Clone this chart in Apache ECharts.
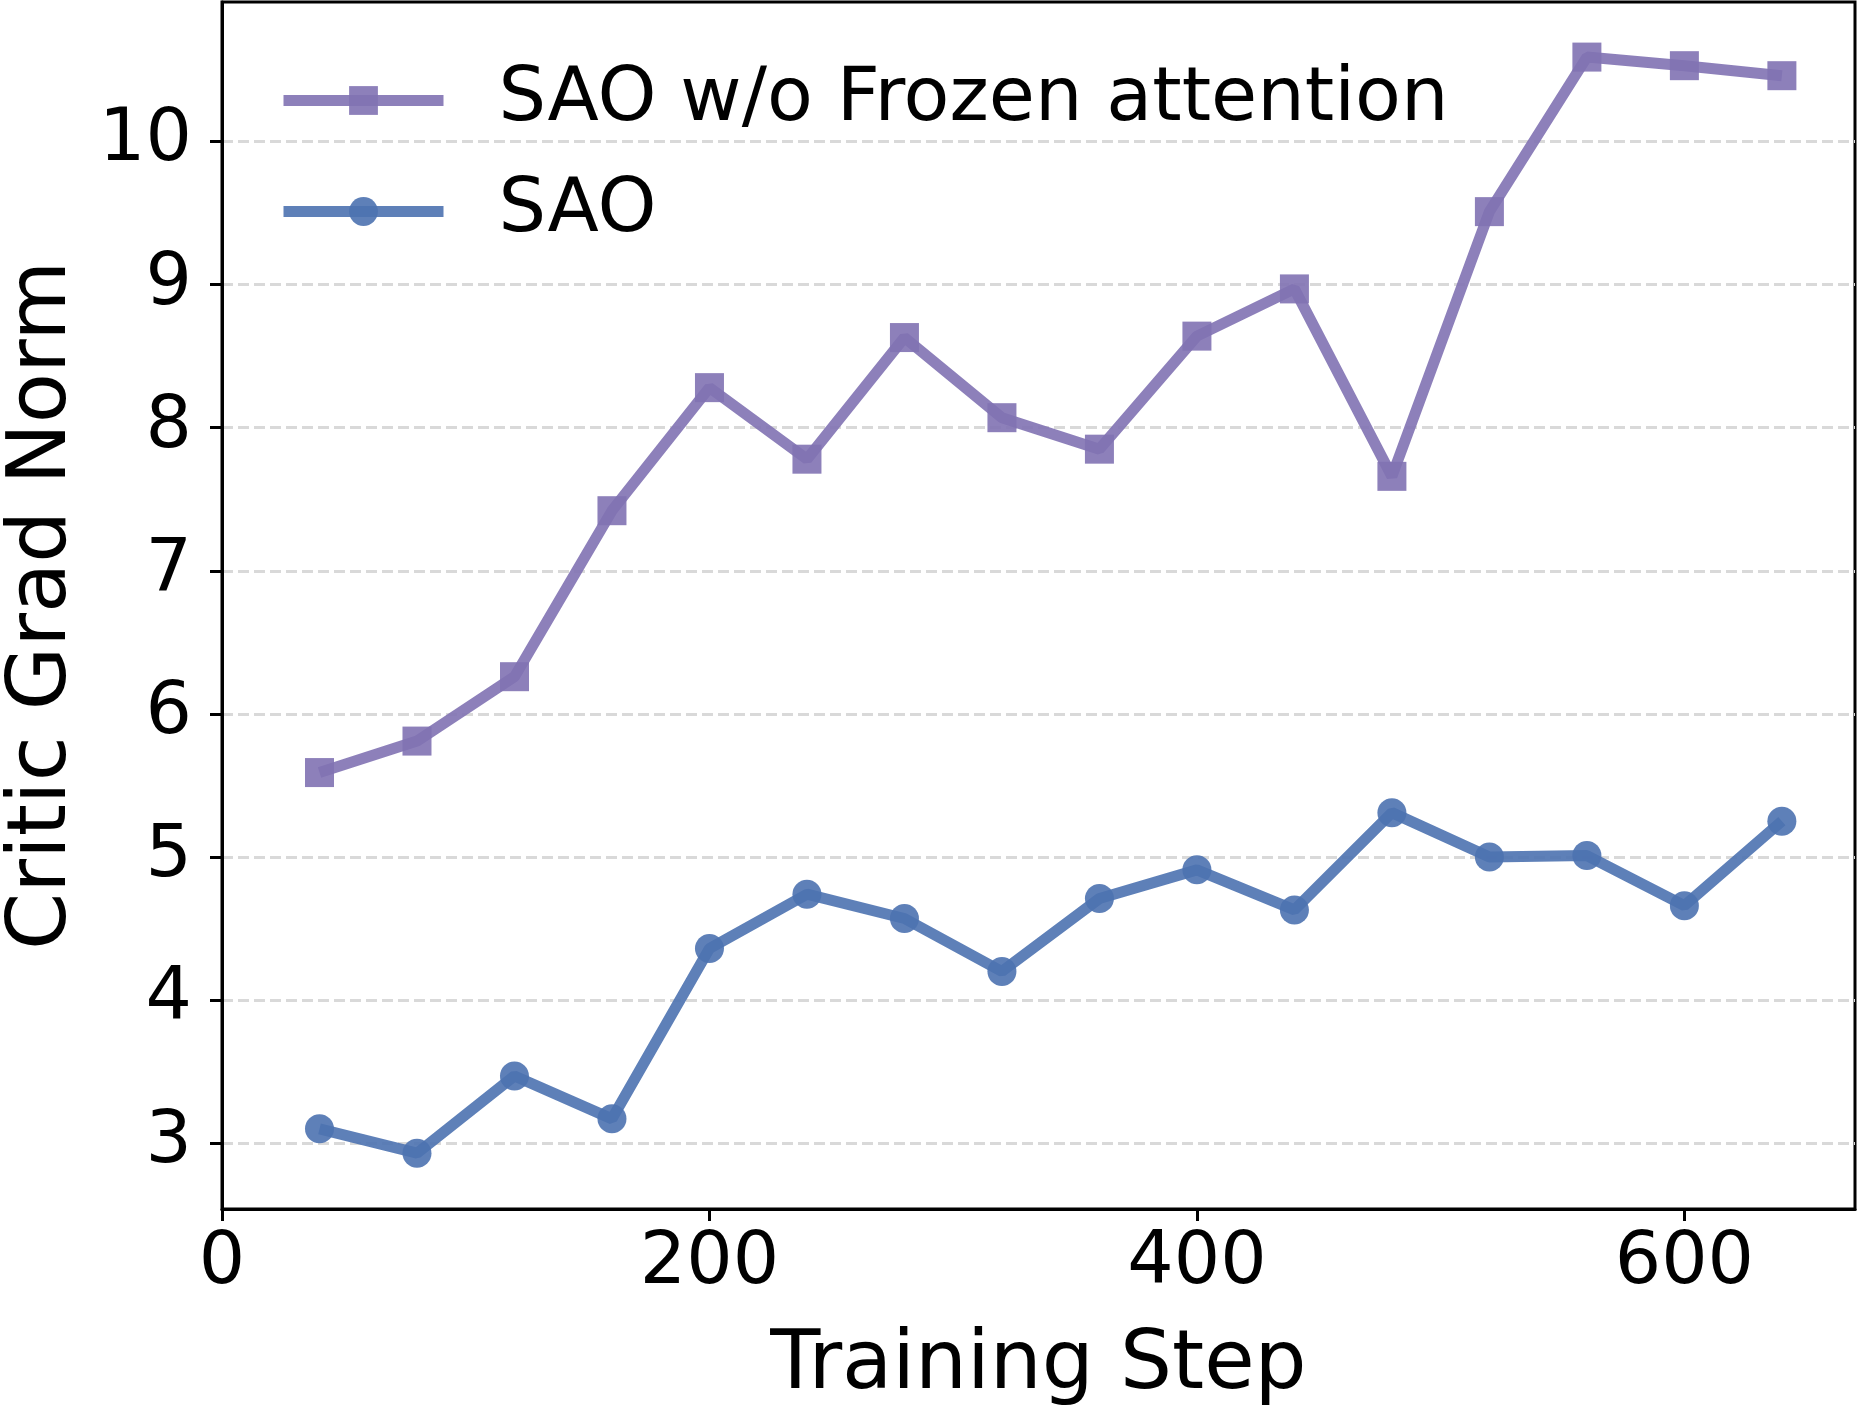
<!DOCTYPE html>
<html>
<head>
<meta charset="utf-8">
<script src="https://cdn.jsdelivr.net/npm/echarts@6/dist/echarts.min.js"></script>
<style>
  html, body { margin: 0; padding: 0; background: #fff; }
  #chart { width: 1859px; height: 1410px; }
</style>
</head>
<body>
<div id="chart"></div>
<script>
// training steps on the x axis
const steps = [40, 80, 120, 160, 200, 240, 280, 320, 360, 400, 440, 480, 520, 560, 600, 640]
// critic grad norm per series
const noFrozenAttn = [5.59, 5.81, 6.26, 7.42, 8.28, 7.78, 8.63, 8.07, 7.85, 8.64, 8.97, 7.66, 9.51, 10.59, 10.53, 10.46]
const sao = [3.10, 2.93, 3.47, 3.17, 4.36, 4.74, 4.57, 4.20, 4.71, 4.91, 4.63, 5.31, 5.00, 5.01, 4.66, 5.25]
// tick labels
const xTicks = [0, 200, 400, 600]
const yTicks = [3, 4, 5, 6, 7, 8, 9, 10]

const font = 'DejaVu Sans'
const purple = '#8172B3'
const blue = '#4C72B0'

const pairs = ys => steps.map((x, i) => [x, ys[i]])

let myChart = echarts.init(document.getElementById('chart'))
myChart.setOption({
  animation: false,
  backgroundColor: '#fff',
  grid: {
    left: 222,
    right: 4,
    top: 2,
    bottom: 201,
    outerBoundsMode: 'none',
    containLabel: false,
    show: true,
    borderColor: '#000',
    borderWidth: 3
  },
  legend: {
    orient: 'vertical',
    left: 273,
    top: 58,
    itemWidth: 160,
    itemHeight: 36,
    itemGap: 36,
    data: ['SAO w/o Frozen attention', 'SAO'],
    lineStyle: { width: 11 },
    textStyle: {
      fontFamily: font,
      fontSize: 75,
      color: '#000',
      padding: [0, 0, 0, 50]
    }
  },
  xAxis: {
    type: 'value',
    min: 0,
    max: 670,
    name: 'Training Step',
    nameLocation: 'middle',
    nameGap: 117,
    nameTextStyle: { fontFamily: font, fontSize: 82, color: '#000' },
    axisLine: { show: true, lineStyle: { color: '#000', width: 3 } },
    axisTick: { show: true, length: 12, lineStyle: { color: '#000', width: 3 }, customValues: xTicks },
    axisLabel: { fontFamily: font, fontSize: 73, color: '#000', margin: 19, customValues: xTicks },
    splitLine: { show: false }
  },
  yAxis: {
    type: 'value',
    min: 2.54,
    max: 10.975,
    name: 'Critic Grad Norm',
    nameLocation: 'middle',
    nameGap: 137,
    nameRotate: 90,
    nameTextStyle: { fontFamily: font, fontSize: 82, color: '#000' },
    axisLine: { show: true, lineStyle: { color: '#000', width: 3 } },
    axisTick: { show: true, length: 12, lineStyle: { color: '#000', width: 3 }, customValues: yTicks },
    axisLabel: { fontFamily: font, fontSize: 73, color: '#000', margin: 30, customValues: yTicks },
    splitLine: {
      show: true,
      lineStyle: { color: '#d9d9d9', width: 3, type: [11, 5] }
    }
  },
  series: [
    {
      name: 'SAO w/o Frozen attention',
      type: 'line',
      data: pairs(noFrozenAttn),
      symbol: 'rect',
      symbolSize: 29,
      color: purple,
      lineStyle: { width: 11, color: purple, opacity: 0.9 },
      itemStyle: { color: purple, opacity: 0.9 }
    },
    {
      name: 'SAO',
      type: 'line',
      data: pairs(sao),
      symbol: 'circle',
      symbolSize: 29,
      color: blue,
      lineStyle: { width: 11, color: blue, opacity: 0.9 },
      itemStyle: { color: blue, opacity: 0.9 }
    }
  ]
})
</script>
</body>
</html>
